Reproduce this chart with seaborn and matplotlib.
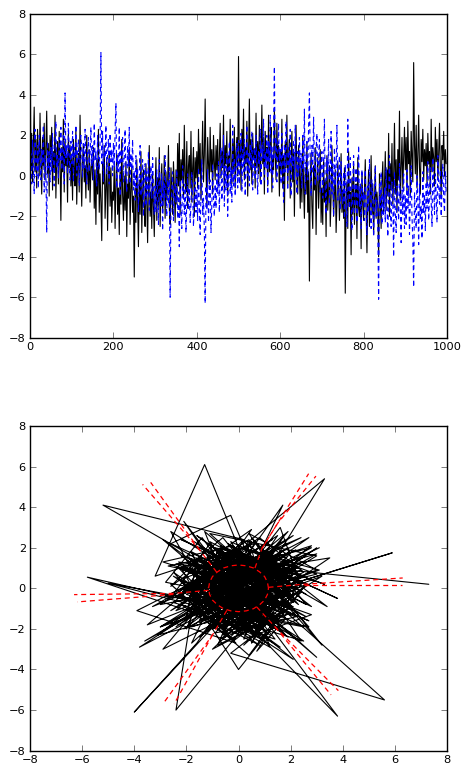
import numpy as np
import pandas as pd
import seaborn as sns
import matplotlib.pyplot as plt

# sample index (every 2nd step of 0..1000)
step = 2
n_pts = 500

black = [
    7.3, 0.4, 2.1, -0.3, 1.5, 3.4, 0.2, 1.8, -0.6, 2.3, 1.1, 0.0, 3.1, 0.7, -0.9, 1.9, 0.5, 2.6, -0.2, 1.3, 3.2, 0.1, 1.6, -1.0, 2.0,
    0.8, 2.4, -0.7, 1.2, 0.3, 3.0, -1.1, 0.9, 1.7, -0.4, 2.2, 0.6, -2.2, 1.4, 0.2, 2.8, -0.8, 1.7, 0.5, 1.0, -1.3, 2.1, 0.4, 1.5, -0.5,
    0.9, -1.2, 1.8, 0.3, -0.5, 2.4, -1.4, 0.6, 1.1, -0.8, 3.0, 0.2, -1.5, 0.7, 1.6, -0.3, 0.5, -1.1, 2.0, 0.1, -0.7, 1.3, -1.3, 0.4, 0.8,
    -0.2, 1.4, -1.6, 0.3, -2.4, 0.8, -0.9, 2.3, -1.8, 0.1, -1.3, -3.2, 0.6, -0.4, 1.5, -2.1, -0.6, 0.9, -2.7, -0.1, 1.2, -1.5, 0.4, -2.3, -0.8,
    -1.2, 0.5, -2.6, -0.3, 1.1, -1.9, -0.6, -2.9, 0.2, -1.4, 1.8, -0.9, -2.2, 0.0, -1.7, 0.7, -3.0, -0.4, -1.1, 1.3, -2.4, -0.7, 0.4, -1.8, -1.0,
    -5.0, -0.6, -2.3, 0.8, -1.5, -3.5, -0.2, -1.9, 1.2, -2.8, -0.9, 0.3, -1.6, -2.5, 0.6, -1.2, -3.3, -0.4, 1.5, -2.0, -0.8, -2.6, 0.1, -1.4, -3.0,
    -0.7, 0.9, -2.2, -0.1, -1.5, 1.4, -2.5, -0.4, 0.6, -1.8, -0.9, 1.0, -2.1, 0.2, -1.2, -0.3, 1.5, -1.6, -2.4, 0.4, -0.8, -1.9, 0.7, -0.5, -2.3,
    0.3, -1.4, 1.6, -0.5, 2.1, -1.9, 0.8, -0.2, 1.3, -1.1, 2.5, 0.0, -0.8, 1.7, -1.6, 0.5, 1.0, -0.6, 2.2, -1.3, 0.4, 1.4, -2.0, 0.9, -0.1,
    1.2, -0.6, 2.3, 0.1, 1.6, -1.2, 0.8, 2.7, -0.3, 1.0, 3.8, 0.4, -1.5, 1.9, 0.6, -0.4, 2.4, 0.2, 1.3, -0.9, 2.0, 0.7, -0.2, 1.5, 0.3,
    1.8, -0.5, 0.9, 2.6, -0.1, 1.2, 0.4, 3.0, -0.8, 1.5, 0.6, 2.2, -1.0, 1.0, 0.2, 2.8, 0.7, -0.4, 1.7, 0.3, 2.4, -0.6, 1.1, 1.9, 0.0,
    5.9, 0.5, 1.6, -0.7, 2.3, 0.9, 3.3, -0.2, 1.4, 0.6, 2.7, -1.0, 1.1, 3.8, 0.3, 1.8, -0.4, 2.1, 0.8, 1.3, -0.6, 3.1, 0.4, 1.7, 0.1,
    2.5, -0.3, 1.2, 3.5, 0.6, 1.9, -0.9, 2.2, 0.8, 1.4, -0.5, 3.0, 0.2, 1.6, 2.4, -0.8, 1.0, 0.3, 3.3, 1.1, -0.2, 2.6, 0.7, 1.5, -1.0,
    1.3, 0.2, 2.8, -0.6, 1.0, -2.2, 1.7, 0.4, 3.0, -0.4, 0.9, 1.8, -1.1, 0.6, 2.2, -0.3, 1.2, -2.0, 0.8, 2.5, 0.0, -0.9, 1.5, 0.3, -1.6,
    0.7, -1.3, 1.9, -0.5, -2.1, 0.4, -0.9, 1.6, -1.8, 0.2, -5.2, -0.3, 1.1, -1.5, -2.6, 0.5, -0.7, 1.4, -2.9, -0.2, 0.9, -1.6, -0.4, 1.3, -2.3,
    -0.6, -2.4, 0.8, -1.3, -0.2, -3.0, 1.0, -1.7, -0.8, 0.5, -2.5, -1.1, 1.5, -0.4, -2.0, -0.9, 0.3, -2.8, -1.4, 0.7, -0.5, -2.2, -1.0, 1.1, -1.8,
    -0.7, -2.1, 0.4, -5.8, -1.2, -0.3, -2.6, 1.2, -1.5, -0.8, -3.9, -0.1, -1.9, 0.6, -2.4, -1.0, -0.4, -3.1, 0.9, -1.6, -2.0, -0.5, -3.6, 0.2, -1.3,
    -2.2, -0.6, 0.8, -1.7, -3.8, -0.9, 0.3, -2.5, -1.2, 1.0, -1.9, -0.4, -2.9, -1.4, 0.5, -2.1, -0.8, -1.6, -4.0, 0.1, -1.1, -2.6, -0.3, 0.7, -1.8,
    -0.5, 1.2, -1.7, 0.3, -1.0, 2.1, -2.0, 0.6, -0.7, 1.6, -1.4, 0.0, 2.6, -0.9, 0.8, -1.8, 1.3, -0.2, 3.2, -1.2, 0.4, 1.9, -0.6, 1.0, 2.4,
    0.3, 1.9, -0.8, 2.7, 0.6, 1.2, -1.0, 2.2, 0.9, -0.3, 5.6, 1.5, 0.1, 2.5, -0.6, 1.0, 3.0, 0.4, -0.9, 1.8, 0.7, 2.3, -0.2, 1.3, 0.5,
    1.6, -0.4, 2.1, 0.6, 1.2, -0.9, 2.8, 0.2, 1.4, 0.9, -0.5, 2.4, 0.7, 1.8, -0.2, 1.1, 2.6, 0.3, -1.0, 1.5, 0.8, 2.2, 0.0, 1.3, 0.6,
]

blue = [
    0.2, 1.1, -0.4, 1.8, 0.5, -0.9, 2.3, 0.8, 0.0, 1.5, -0.6, 2.0, 0.9, -0.2, 1.3, 0.6, 2.5, -0.8, 1.0, 0.3, -2.8, 1.7, 0.4, 1.2, -0.3,
    1.4, 0.2, 2.1, 0.7, -0.5, 1.6, 2.7, 0.4, 1.0, -0.1, 1.9, 0.8, 2.4, 0.3, 1.2, 2.0, -0.4, 4.1, 0.9, 1.5, 0.1, 2.6, 1.1, -0.2, 1.7,
    0.6, 2.2, -0.3, 1.4, 0.9, 2.5, 0.0, 1.1, 1.8, -0.5, 0.7, 2.0, 1.3, -0.1, 1.6, 0.4, 2.3, 0.8, -0.4, 1.2, 1.9, 0.2, 1.0, 2.4, 0.5,
    1.5, -0.2, 2.6, 0.8, 1.2, -0.5, 2.0, 1.0, 0.3, 1.7, 6.1, 0.6, 2.2, -0.3, 1.4, 0.9, 2.5, 0.1, 1.1, 1.8, -0.4, 2.1, 0.7, 1.3, 0.0,
    1.6, 0.4, 2.2, 3.6, -0.6, 1.0, 0.2, 2.4, -1.0, 1.3, 0.7, 1.9, -0.3, 0.9, 2.3, 0.1, -0.8, 1.5, 0.5, 2.4, -0.4, 1.1, 0.3, 1.8, -0.7,
    0.25, -1.2, 1.0, -0.6, 0.4, -1.8, -0.1, 1.5, -1.0, -0.4, 0.8, -2.0, -0.2, 0.6, -1.5, 0.2, -0.9, 1.2, -1.7, -0.3, 0.5, -1.1, 0.9, -0.6, -1.9,
    -0.5, -1.8, 0.3, -1.1, -2.4, 0.8, -0.7, -1.5, 0.1, -2.7, -0.3, -1.2, 1.0, -0.9, -2.0, -0.2, -1.4, 0.4, -6.0, -1.6, -0.6, 0.2, -2.2, -1.0, -0.4,
    -1.3, 0.3, -2.1, -0.8, -3.5, -0.2, -1.6, -2.6, 0.5, -1.0, -1.9, -0.4, -2.8, -1.2, 0.1, -1.7, -0.6, -2.3, -1.4, 0.2, -0.9, -2.5, -1.1, -0.3, -1.8,
    -0.7, -2.2, 0.4, -1.5, -2.9, -0.8, 0.8, -1.9, -1.1, -2.6, -6.3, -0.5, -1.7, 0.3, -2.3, -1.0, -0.2, -2.8, -1.4, 0.6, -1.2, -2.0, -0.4, -1.6, 0.1,
    -0.9, 0.7, -1.8, 0.2, 1.4, -1.2, -0.3, 2.0, -1.5, 0.5, -0.7, 1.1, -2.0, 0.0, 1.7, -0.9, 0.4, -1.3, 2.5, -0.5, 0.9, -1.0, 0.3, 1.6, -0.6,
    1.75, -0.4, 0.9, 2.1, -0.8, 1.3, 0.2, 1.8, -1.0, 0.6, 2.5, 0.0, 1.1, -0.5, 1.6, 0.4, 2.2, -0.7, 0.8, 1.4, -0.2, 2.0, 0.3, -0.9, 1.2,
    0.6, 2.3, -0.5, 1.5, 0.9, 2.8, -0.2, 1.2, 0.4, 2.0, -0.9, 1.7, 0.7, 3.0, 0.1, 1.4, -0.6, 2.2, 5.4, 0.8, 1.9, -0.3, 1.1, 2.6, 0.5,
    1.3, -0.4, 2.1, 0.7, -1.3, 1.6, 0.2, 2.7, 0.9, -0.7, 1.4, 0.3, 2.3, -1.0, 1.0, 0.5, 1.8, -0.2, 2.5, 0.8, -0.9, 1.2, 0.0, 1.9, 0.4,
    1.1, -0.6, 2.0, 0.3, 3.3, -0.9, 0.8, 1.7, -0.2, 2.4, 4.1, 0.5, -1.0, 1.5, 0.1, 2.9, 0.7, -0.5, 1.3, 2.1, -0.3, 0.9, 1.8, -0.8, 0.4,
    1.2, -1.1, 0.5, 2.8, -0.7, -1.9, 0.9, 0.1, 1.8, -1.4, -0.3, 2.2, -0.9, 0.6, -2.0, 1.4, -0.5, 0.3, 2.5, -1.2, -0.1, 1.0, -1.7, 0.7, -0.6,
    -1.4, 0.2, -2.1, 0.55, -0.8, -2.5, 2.8, -0.3, -1.6, 0.9, -1.1, -2.7, -0.2, 1.0, -1.9, -0.7, 0.4, -2.3, -1.0, 1.5, -1.5, -0.4, -2.6, 0.3, -1.2,
    -0.8, -2.2, 0.3, -1.5, -2.9, -0.5, -1.8, 0.8, -1.1, -2.6, -0.2, -1.4, -3.0, -0.7, 0.5, -2.0, -1.2, -2.7, -6.1, -0.4, -1.6, 0.2, -2.4, -0.9, -1.9,
    -0.6, -2.3, 0.4, -1.4, -3.0, -0.9, 1.0, -1.8, -2.5, -0.3, -1.2, -4.0, 0.2, -1.7, -2.8, -0.5, -1.1, -2.2, 0.6, -1.5, -3.3, -0.7, -1.9, 0.1, -2.6,
    -1.0, -2.4, 0.3, -1.6, -0.5, -2.9, -1.3, 0.5, -2.0, -3.2, -5.5, -0.8, -1.7, -2.6, 0.0, -1.2, -3.4, -0.4, -2.2, -1.5, -3.1, 0.2, -1.8, -0.9, -2.7,
    -0.3, -1.6, 0.7, -2.2, -0.8, 0.4, -1.3, -2.5, 0.9, -0.6, -1.9, 0.1, -1.0, -2.3, 1.0, -0.5, -1.4, 0.3, -2.0, -0.7, 0.6, -1.2, -1.8, 0.2, -0.9,
]

# red dashed overlay on the lower panel: ring + spokes (segment id per point)
red_x = [1.15, 1.11, 1.00, 0.81, 0.58, 0.30, 0.00, -0.30, -0.58, -0.81, -1.00, -1.11, -1.15,
         -1.11, -1.00, -0.81, -0.58, -0.30, 0.00, 0.30, 0.58, 0.81, 1.00, 1.11, 1.15,
         0.63, 0.90, 2.69, 0.90, 1.50, 2.97,
         1.15, 2.50, 6.30, 2.50, 6.27,
         -0.84, -1.50, -3.68, -1.50, -3.37,
         -1.15, -2.50, -6.31, -2.50, -6.19,
         -0.45, -1.00, -2.85, -1.00, -2.47,
         0.70, 1.40, 3.83, 1.40, 3.55]
red_y = [0.00, 0.30, 0.58, 0.81, 1.00, 1.11, 1.15, 1.11, 1.00, 0.81, 0.58, 0.30, 0.00,
         -0.30, -0.58, -0.81, -1.00, -1.11, -1.15, -1.11, -1.00, -0.81, -0.58, -0.30, 0.00,
         1.00, 1.97, 5.65, 1.97, 3.20, 5.53,
         0.05, 0.20, 0.51, 0.15, 0.15,
         0.80, 1.90, 5.12, 1.90, 5.22,
         -0.10, -0.25, -0.31, -0.30, -0.67,
         -1.09, -2.30, -5.61, -2.30, -5.70,
         -0.92, -1.90, -5.04, -1.90, -5.25]
red_seg = [0] * 25 + [1, 1, 1, 2, 2, 2] + [3, 3, 3, 4, 4] + [5, 5, 5, 6, 6] + \
          [7, 7, 7, 8, 8] + [9, 9, 9, 10, 10] + [11, 11, 11, 12, 12]

idx = np.arange(n_pts) * step
red_df = pd.DataFrame({"x": red_x, "y": red_y, "seg": red_seg})

sns.set_style("ticks", {"xtick.direction": "in", "ytick.direction": "in",
                        "axes.edgecolor": "black"})
plt.rcParams['font.family'] = ['DejaVu Sans']

fig = plt.figure(figsize=(4.64, 7.67), dpi=100)
ax1 = fig.add_axes([0.0647, 0.5597, 0.8987, 0.422])
ax2 = fig.add_axes([0.0647, 0.0213, 0.8987, 0.4233])

dash = (0, (4, 3))

# top: two series over time
sns.lineplot(x=idx, y=black, color="k", lw=0.8, estimator=None, ax=ax1)
sns.lineplot(x=idx, y=blue, color="b", lw=0.8, linestyle=dash, estimator=None, ax=ax1)
ax1.set_xlim(0, 1000)
ax1.set_ylim(-8, 8)
ax1.set_xticks(range(0, 1001, 200))
ax1.set_yticks(range(-8, 9, 2))

# bottom: one series against the other
sns.lineplot(x=black, y=blue, color="k", lw=0.8, sort=False, estimator=None, ax=ax2)
sns.lineplot(data=red_df, x="x", y="y", units="seg", estimator=None, sort=False,
             color="r", lw=0.9, linestyle=dash, ax=ax2)
ax2.set_xlim(-8, 8)
ax2.set_ylim(-8, 8)
ax2.set_xticks(range(-8, 9, 2))
ax2.set_yticks(range(-8, 9, 2))

for ax in (ax1, ax2):
    ax.set_xlabel("")
    ax.set_ylabel("")
    ax.tick_params(top=True, right=True, direction="in", length=4, width=0.6,
                   labelsize=8.2, pad=3, color="0.4", labelcolor="black")
    for s in ax.spines.values():
        s.set_visible(True)
        s.set_color("black")
        s.set_linewidth(1.0)

fig.savefig("out.png", dpi=100)
